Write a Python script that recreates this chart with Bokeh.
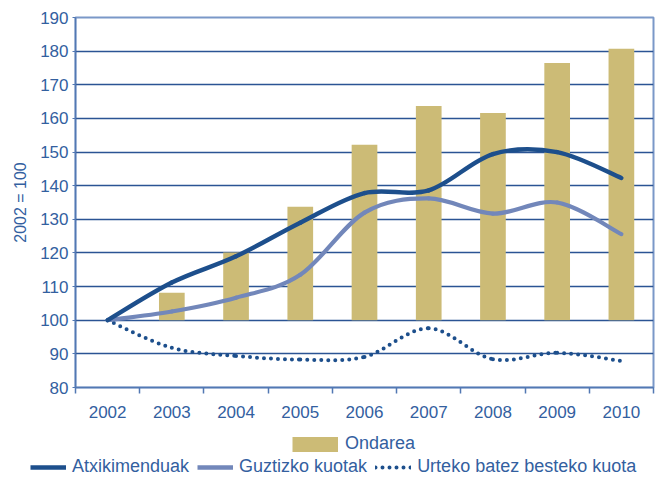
from bokeh.plotting import figure
from bokeh.layouts import column
from bokeh.models import Range1d, FixedTicker, Legend, LegendItem, ColumnDataSource
from bokeh.embed import file_html
from bokeh.resources import INLINE

# ---- data ----
years = ["2002", "2003", "2004", "2005", "2006", "2007", "2008", "2009", "2010"]
ondarea = [100, 108.2, 120.1, 133.7, 152.2, 163.7, 161.6, 176.5, 180.7]
atxikimenduak = [100, 111.2, 119.0, 129.0, 137.8, 138.6, 149.4, 150.0, 142.3]
guztizko_kuotak = [100, 102.6, 106.7, 113.5, 132.0, 136.2, 131.7, 135.0, 125.6]
urteko_kuota = [100, 91.8, 89.4, 88.3, 89.1, 97.6, 88.4, 90.3, 87.9]
y_ticks = [80, 90, 100, 110, 120, 130, 140, 150, 160, 170, 180, 190]
bar_base = 100

FONT = "Liberation Sans"
TXT = "#33609f"
DARK = "#1d4f8c"
LIGHT = "#7287ba"
TAN = "#ccbb76"
GRID = "#2b5494"
AXIS = "#5278b3"

xs = list(range(len(years)))

p = figure(width=664, height=420, output_backend="svg", toolbar_location=None,
           x_range=Range1d(-0.5, len(years) - 0.5), y_range=Range1d(80, 190),
           min_border_left=75, min_border_right=11, min_border_top=17, min_border_bottom=33)
p.frame_align = False
p.background_fill_color = "white"
p.border_fill_color = "white"
p.outline_line_color = "#7a98c8"
p.outline_line_width = 2

# grid
p.xgrid.grid_line_color = None
p.ygrid.ticker = FixedTicker(ticks=y_ticks)
p.ygrid.grid_line_color = GRID
p.ygrid.grid_line_width = 1.6

# axes
p.yaxis.ticker = FixedTicker(ticks=y_ticks)
p.yaxis.axis_label = "2002 = 100"
p.yaxis.axis_label_text_font = FONT
p.yaxis.axis_label_text_font_style = "normal"
p.yaxis.axis_label_text_font_size = "16px"
p.yaxis.axis_label_text_color = TXT
p.yaxis.axis_label_standoff = 8
p.yaxis.major_label_text_font = FONT
p.yaxis.major_label_text_font_size = "17px"
p.yaxis.major_label_text_color = TXT
p.yaxis.major_label_standoff = 4
p.yaxis.major_tick_out = 3
p.yaxis.major_tick_in = 0
p.yaxis.minor_tick_line_color = None
p.yaxis.axis_line_color = AXIS
p.yaxis.axis_line_width = 1.5
p.yaxis.major_tick_line_color = AXIS

p.xaxis.ticker = FixedTicker(ticks=xs, minor_ticks=[i - 0.5 for i in range(len(years) + 1)])
p.xaxis.major_label_overrides = {i: y for i, y in enumerate(years)}
p.xaxis.major_label_text_font = FONT
p.xaxis.major_label_text_font_size = "17px"
p.xaxis.major_label_text_color = TXT
p.xaxis.major_label_standoff = 12
p.xaxis.major_tick_out = 0
p.xaxis.major_tick_in = 0
p.xaxis.minor_tick_out = 6
p.xaxis.minor_tick_in = 0
p.xaxis.minor_tick_line_color = AXIS
p.xaxis.minor_tick_line_width = 1.5
p.xaxis.axis_line_color = AXIS
p.xaxis.axis_line_width = 1.5

# bars
p.vbar(x=xs, bottom=bar_base, top=ondarea, width=0.4, fill_color=TAN, line_color=None)

# smoothed lines via bezier segments whose control points come from the data
def bez(vals):
    n = len(vals)
    P = lambda i: (xs[max(0, min(n - 1, i))], vals[max(0, min(n - 1, i))])
    d = dict(x0=[], y0=[], x1=[], y1=[], cx0=[], cy0=[], cx1=[], cy1=[])
    for i in range(n - 1):
        p0, p1 = P(i), P(i + 1)
        pm, p2 = P(i - 1), P(i + 2)
        d["x0"].append(p0[0]); d["y0"].append(p0[1])
        d["x1"].append(p1[0]); d["y1"].append(p1[1])
        d["cx0"].append(p0[0] + (p1[0] - pm[0]) / 6.0)
        d["cy0"].append(p0[1] + (p1[1] - pm[1]) / 6.0)
        d["cx1"].append(p1[0] - (p2[0] - p0[0]) / 6.0)
        d["cy1"].append(p1[1] - (p2[1] - p0[1]) / 6.0)
    return ColumnDataSource(d)

bz = dict(x0="x0", y0="y0", x1="x1", y1="y1", cx0="cx0", cy0="cy0", cx1="cx1", cy1="cy1")
p.bezier(**bz, source=bez(urteko_kuota), line_color=DARK, line_width=4,
         line_dash="0 7", line_cap="round")
p.bezier(**bz, source=bez(guztizko_kuotak), line_color=LIGHT, line_width=4.2, line_cap="round")
p.bezier(**bz, source=bez(atxikimenduak), line_color=DARK, line_width=4.4, line_cap="round")

# ---- legend strip (separate figure below the chart) ----
lp = figure(width=664, height=58, output_backend="svg", toolbar_location=None,
            x_range=Range1d(0, 1), y_range=Range1d(0, 1),
            min_border=0, min_border_left=0, min_border_right=0,
            min_border_top=0, min_border_bottom=0)
lp.frame_align = False
lp.axis.visible = False
lp.grid.visible = False
lp.outline_line_color = None
lp.background_fill_color = "white"
lp.border_fill_color = "white"

# swatch renderers: their only points lie outside the strip's visible range
off = dict(x=[-5, -4], y=[-5, -5])
lg_bar = lp.line(**off, line_color=TAN, line_width=15)
lg_atx = lp.line(**off, line_color=DARK, line_width=4.4)
lg_guz = lp.line(**off, line_color=LIGHT, line_width=4.4)
lg_urt = lp.line(**off, line_color=DARK, line_width=4, line_dash="0 7", line_cap="round")

def style(leg):
    leg.label_text_font = FONT
    leg.label_text_font_size = "18px"
    leg.label_text_color = TXT
    leg.border_line_color = None
    leg.background_fill_alpha = 0
    leg.padding = 0
    leg.margin = 0
    leg.orientation = "horizontal"

leg1 = Legend(items=[LegendItem(label="Ondarea", renderers=[lg_bar])],
              glyph_width=46, glyph_height=18, label_height=18, label_standoff=7,
              location=(292, 24))
style(leg1)
leg2 = Legend(items=[LegendItem(label="Atxikimenduak", renderers=[lg_atx]),
                     LegendItem(label="Guztizko kuotak", renderers=[lg_guz]),
                     LegendItem(label="Urteko batez besteko kuota", renderers=[lg_urt])],
              glyph_width=36, glyph_height=18, label_height=18, label_standoff=6, spacing=8,
              location=(30, 1))
style(leg2)
lp.add_layout(leg1)
lp.add_layout(leg2)

layout = column(p, lp, spacing=0)
open("out.html", "w").write(file_html(layout, INLINE))
